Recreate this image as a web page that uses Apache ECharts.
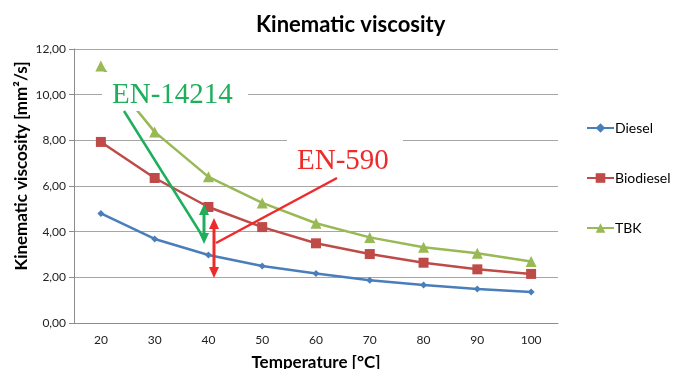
<!DOCTYPE html>
<html lang="en">
<head>
    <meta charset="UTF-8">
    <title>Kinematic viscosity</title>
    <script src="https://cdn.jsdelivr.net/npm/echarts@6/dist/echarts.min.js"></script>
    <style>
        body { margin: 0; background: #fff; }
    </style>
</head>
<body>
<div id="main" style="width: 673px;height:369px;"></div>
<script type="text/javascript">
    // chart data
    var temps = ['20', '30', '40', '50', '60', '70', '80', '90', '100'];
    var diesel = [4.80, 3.68, 2.98, 2.50, 2.17, 1.87, 1.66, 1.49, 1.36];
    var biodiesel = [7.93, 6.35, 5.08, 4.20, 3.49, 3.02, 2.64, 2.35, 2.15];
    var tbk = [11.26, 8.37, 6.40, 5.26, 4.37, 3.75, 3.32, 3.05, 2.69];
    var seriesNames = ['Diesel', 'Biodiesel', 'TBK'];

    var green = '#1fae5b';
    var red = '#ee2a2a';

    var myChart = echarts.init(document.getElementById('main'));

    function arrowHead(x, y, dir, color) {
        // dir: -1 pointing up, 1 pointing down
        return {
            type: 'polygon',
            z: 101,
            shape: { points: [[x, y], [x - 5, y - dir * 11], [x + 5, y - dir * 11]] },
            style: { fill: color }
        };
    }

    var option = {
        title: {
            text: 'Kinematic viscosity',
            left: 251,
            top: 9,
            textStyle: { fontFamily: 'Lato', fontWeight: 'bold', fontSize: 22, color: '#000' }
        },
        legend: {
            orient: 'vertical',
            left: 581,
            top: 116,
            itemWidth: 27,
            itemHeight: 12,
            itemGap: 36,
            data: seriesNames,
            textStyle: { fontFamily: 'Lato', fontSize: 14, color: '#000', padding: [0, 0, 0, -4] }
        },
        grid: { left: 74, right: 115, top: 49, bottom: 46, outerBoundsMode: 'none' },
        xAxis: {
            type: 'category',
            data: temps,
            name: 'Temperature [°C]',
            nameLocation: 'middle',
            nameGap: 31,
            nameTextStyle: { fontFamily: 'Lato', fontWeight: 'bold', fontSize: 17, color: '#000' },
            axisLine: { lineStyle: { color: '#8c8c8c' } },
            axisTick: { length: 5, lineStyle: { color: '#8c8c8c' } },
            axisLabel: { margin: 11, fontFamily: 'Lato', fontSize: 12, color: '#222' }
        },
        yAxis: {
            type: 'value',
            min: 0,
            max: 12,
            interval: 2,
            axisLine: { show: true, lineStyle: { color: '#8c8c8c' } },
            axisTick: { show: true, length: 5, lineStyle: { color: '#8c8c8c' } },
            splitLine: { lineStyle: { color: '#a6a6a6' } },
            axisLabel: {
                margin: 8, fontFamily: 'Lato', fontSize: 12, color: '#222',
                formatter: function (v) { return v.toFixed(2).replace('.', ','); }
            }
        },
        series: [
            {
                name: 'Diesel', type: 'line', data: diesel,
                symbol: 'diamond', symbolSize: 7,
                lineStyle: { width: 2.5, color: '#4a7ebb' },
                itemStyle: { color: '#4a7ebb' }
            },
            {
                name: 'Biodiesel', type: 'line', data: biodiesel,
                symbol: 'rect', symbolSize: 10,
                lineStyle: { width: 2.5, color: '#be4b48' },
                itemStyle: { color: '#be4b48' }
            },
            {
                name: 'TBK', type: 'line', data: tbk,
                symbol: 'triangle', symbolSize: 11,
                lineStyle: { width: 2.5, color: '#98b954' },
                itemStyle: { color: '#98b954' }
            }
        ],
        animation: false,
        graphic: [
            {
                type: 'text', x: 22, y: 166, rotation: Math.PI / 2,
                style: {
                    text: 'Kinematic viscosity [mm²/s]', fill: '#000',
                    font: 'bold 17px Lato', align: 'center', verticalAlign: 'middle'
                }
            },
            // label boxes covering the grid
            { type: 'rect', z: 100, shape: { x: 102, y: 72, width: 146, height: 39 }, style: { fill: '#fff' } },
            { type: 'rect', z: 100, shape: { x: 287, y: 137, width: 116, height: 41 }, style: { fill: '#fff' } },
            {
                type: 'text', z: 101, x: 112, y: 95,
                style: { text: 'EN-14214', fill: green, font: '29px "Liberation Serif"', verticalAlign: 'middle' }
            },
            {
                type: 'text', z: 101, x: 297, y: 161,
                style: { text: 'EN-590', fill: red, font: '29px "Liberation Serif"', verticalAlign: 'middle' }
            },
            // EN-14214 pointer and range arrow
            { type: 'line', z: 101, shape: { x1: 124, y1: 111, x2: 203, y2: 237 }, style: { stroke: green, lineWidth: 2.5 } },
            { type: 'line', z: 101, shape: { x1: 204, y1: 212, x2: 204, y2: 236 }, style: { stroke: green, lineWidth: 3 } },
            arrowHead(204, 204, -1, green),
            arrowHead(204, 244, 1, green),
            // EN-590 pointer and range arrow
            { type: 'line', z: 101, shape: { x1: 216, y1: 243, x2: 337, y2: 178 }, style: { stroke: red, lineWidth: 2.5 } },
            { type: 'line', z: 101, shape: { x1: 214, y1: 226, x2: 214, y2: 270 }, style: { stroke: red, lineWidth: 3 } },
            arrowHead(214, 218, -1, red),
            arrowHead(214, 278, 1, red)
        ]
    };
    myChart.setOption(option);
</script>
</body>
</html>
